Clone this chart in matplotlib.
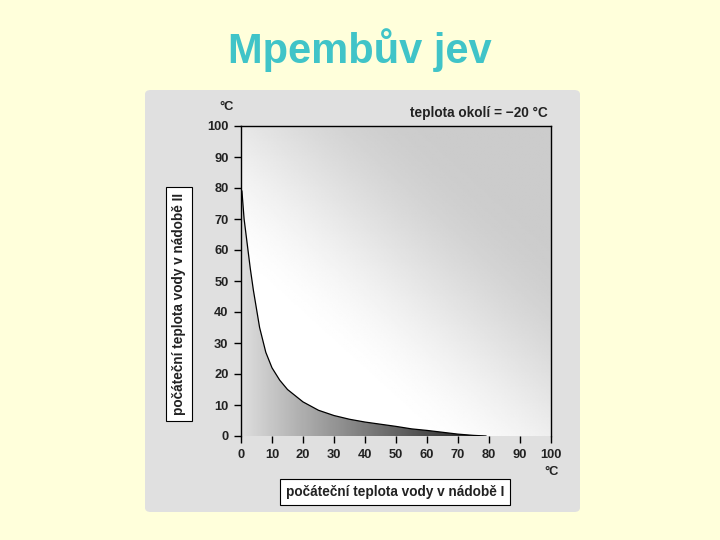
import numpy as np
import matplotlib
matplotlib.use('Agg')
import matplotlib.pyplot as plt
from matplotlib.patches import FancyBboxPatch, Polygon

# initial temperature of vessel I (x) and the boundary temperature of vessel II (y)
temp_I = [0.3, 1, 2, 3, 4, 5, 6, 8, 10, 12.5, 15, 17.5, 20, 25, 30, 35, 40, 45, 50, 55, 60, 65, 70, 75, 79]
temp_II = [79, 70, 62, 54, 47, 41, 35, 27, 22, 18, 15, 13, 11, 8.3, 6.6, 5.4, 4.5, 3.8, 3.1, 2.3, 1.8, 1.2, 0.6, 0.2, 0]
ticks = [0, 10, 20, 30, 40, 50, 60, 70, 80, 90, 100]

title = 'Mpembův jev'
note = 'teplota okolí = \u221220 °C'
xlabel = 'počáteční teplota vody v nádobě I'
ylabel = 'počáteční teplota vody v nádobě II'


def main():
    bg = '#FFFFDB'
    panel_color = '#E0E0E0'
    ink = '#222222'
    font = 'Liberation Sans'
    fs = 9.3
    W, H = 720, 540

    fig = plt.figure(figsize=(7.2, 5.4), dpi=100, facecolor=bg)

    panel = FancyBboxPatch((145 / W, 1 - 512 / H), 435 / W, 422 / H,
                           boxstyle='round,pad=0,rounding_size=0.008',
                           transform=fig.transFigure, facecolor=panel_color,
                           edgecolor='none', zorder=-5)
    fig.patches.append(panel)

    fig.text(360 / W, 1 - 63 / H, title, ha='center', va='baseline', color='#40C4C8',
             fontsize=30, fontweight='bold', family=font)

    ax = fig.add_axes([241 / W, 1 - 436 / H, 310 / W, 310 / H])
    ax.set_zorder(1)
    ax.set_xlim(0, 100)
    ax.set_ylim(0, 100)

    # diagonal background shading: white bottom-left, grey top-right
    gx, gy = np.meshgrid(np.linspace(0, 100, 200), np.linspace(0, 100, 200))
    s = np.clip((gx + 1.1 * gy - 55) / 115, 0, 1)
    shade = 1 - 0.2 * (3 * s ** 2 - 2 * s ** 3)
    ax.imshow(shade, extent=[0, 100, 0, 100], origin='lower', cmap='gray',
              vmin=0, vmax=1, aspect='auto', zorder=0, interpolation='bilinear')

    # dark horizontal gradient below the curve
    verts = list(zip(temp_I, temp_II)) + [(temp_I[-1], 0), (0, 0), (0, temp_II[0])]
    clip = Polygon(verts, closed=True, facecolor='none', edgecolor='none')
    ax.add_patch(clip)
    hx = np.linspace(0, 100, 300)
    grad = np.clip(0.87 - 0.0095 * hx, 0, 1)[None, :].repeat(2, axis=0)
    img = ax.imshow(grad, extent=[0, 100, 0, 100], origin='lower', cmap='gray',
                    vmin=0, vmax=1, aspect='auto', zorder=1, interpolation='bilinear')
    img.set_clip_path(clip)

    ax.plot(temp_I, temp_II, color='black', lw=0.9, zorder=2)

    for side in ['left', 'top', 'right']:
        ax.spines[side].set_linewidth(1.0)
        ax.spines[side].set_color('black')
    ax.spines['bottom'].set_visible(False)

    ax.set_xticks(ticks)
    ax.set_yticks(ticks)
    ax.tick_params(direction='out', length=5, width=1, pad=4, labelsize=fs)
    for lab in ax.get_xticklabels() + ax.get_yticklabels():
        lab.set_family(font)
        lab.set_fontweight('bold')
        lab.set_color(ink)

    fig.text(227 / W, 1 - 107 / H, '°C', ha='center', va='center', fontsize=fs,
             family=font, fontweight='bold', color=ink)
    fig.text(552 / W, 1 - 472 / H, '°C', ha='center', va='center', fontsize=fs,
             family=font, fontweight='bold', color=ink)
    fig.text(548 / W, 1 - 113 / H, note, ha='right', va='center', fontsize=fs + 0.5,
             family=font, fontweight='bold', color=ink)

    box = dict(boxstyle='square,pad=0.45', facecolor='white', edgecolor='black', lw=0.8)
    fig.text(395 / W, 1 - 492 / H, xlabel, ha='center', va='center', fontsize=fs + 0.5,
             family=font, fontweight='bold', color=ink, bbox=box)
    fig.text(179 / W, 1 - 304 / H, ylabel, ha='center', va='center', rotation=90,
             fontsize=fs + 0.5, family=font, fontweight='bold', color=ink, bbox=box)

    fig.savefig('out.png', dpi=100, facecolor=bg)


if __name__ == '__main__':
    main()
